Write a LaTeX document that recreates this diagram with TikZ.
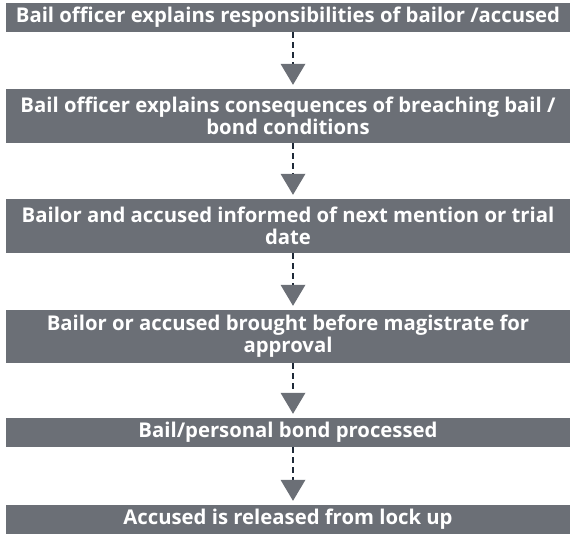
\documentclass[tikz,border=0pt]{standalone}
\usepackage{fontspec}
\setsansfont{Open Sans}
\usetikzlibrary{arrows.meta}
\definecolor{boxgray}{HTML}{6B6F76}
\definecolor{dashnavy}{HTML}{1F2A38}
\tikzset{
  stepbox/.style={fill=boxgray, text=white, font=\sffamily\bfseries\fontsize{20.3}{22}\selectfont,
    align=center, inner sep=0pt, minimum width=564pt},
  flowline/.style={draw=dashnavy, line width=2.5pt, dash pattern=on 6pt off 4pt,
    -{Triangle[width=25pt,length=21pt,line width=0pt,color=boxgray,fill=boxgray]}}
}
\begin{document}
\begin{tikzpicture}[x=1pt,y=1pt]
      \useasboundingbox (0,0) rectangle (573,-534);
      \node[stepbox, minimum height=29pt] (b1) at (288,-17.5)
        {Bail officer explains responsibilities of bailor /accused};
      \node[stepbox, minimum height=54pt] (b2) at (288,-116)
        {Bail officer explains consequences of breaching bail /\\bond conditions};
      \node[stepbox, minimum height=54pt] (b3) at (288,-226)
        {Bailor and accused informed of next mention or trial\\date};
      \node[stepbox, minimum height=53pt] (b4) at (288,-336.5)
        {Bailor or accused brought before magistrate for\\approval};
      \node[stepbox, minimum height=29pt] (b5) at (288,-432.5)
        {Bail/personal bond processed};
      \node[stepbox, minimum height=29pt] (b6) at (288,-519.5)
        {Accused is released from lock up};
      \begin{scope}[flowline]
        \draw ([xshift=5pt]b1.south) to ([xshift=5pt,yshift=4pt]b2.north);
        \draw ([xshift=5pt]b2.south) to ([xshift=5pt,yshift=4pt]b3.north);
        \draw ([xshift=5pt]b3.south) to ([xshift=5pt,yshift=4pt]b4.north);
        \draw ([xshift=5pt]b4.south) to ([xshift=5pt,yshift=4pt]b5.north);
        \draw ([xshift=5pt]b5.south) to ([xshift=5pt,yshift=4pt]b6.north);
      \end{scope}
    \end{tikzpicture}
\end{document}
